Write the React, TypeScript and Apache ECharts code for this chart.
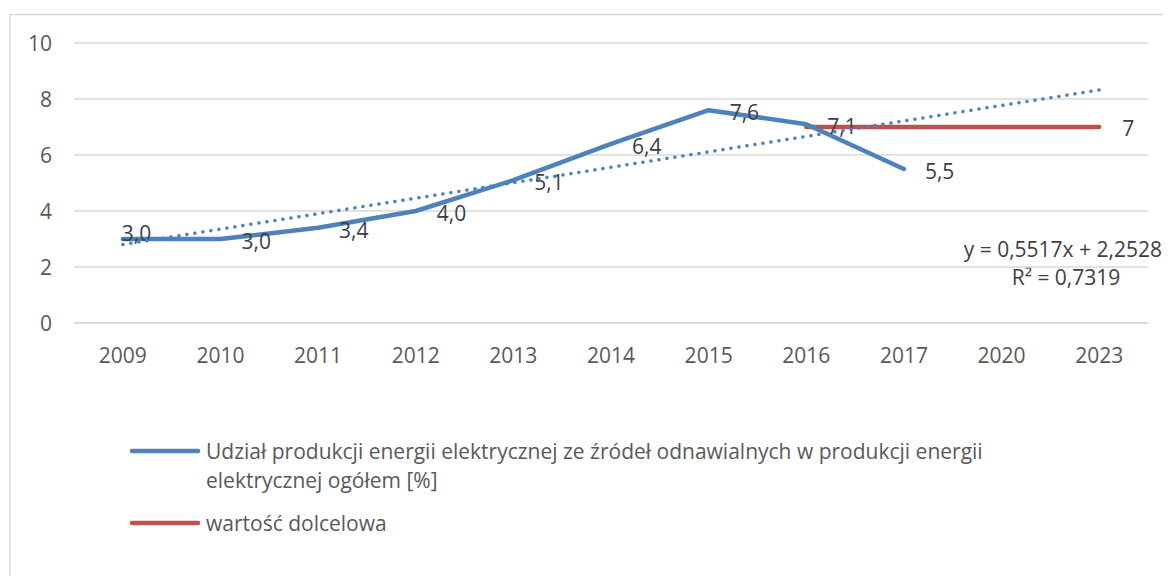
import React, { useEffect, useRef } from "react";
import * as echarts from "echarts";

const categories = ["2009", "2010", "2011", "2012", "2013", "2014", "2015", "2016", "2017", "2020", "2023"];
const shareValues: (number | null)[] = [3.0, 3.0, 3.4, 4.0, 5.1, 6.4, 7.6, 7.1, 5.5, null, null];
const targetValues: (number | null)[] = [null, null, null, null, null, null, null, 7, 7, 7, 7];
const trendValues: (number | null)[] = [2.8, null, null, null, null, null, null, null, null, null, 8.32];
const yTicks = { min: 0, max: 10, interval: 2 };

const shareName = "Udział produkcji energii elektrycznej ze źródeł odnawialnych w produkcji energii elektrycznej ogółem [%]";
const legendLine1 = "Udział produkcji energii elektrycznej ze źródeł odnawialnych w produkcji energii";
const legendLine2 = "elektrycznej ogółem [%]";
const targetName = "wartość dolcelowa";
const equationText = "y = 0,5517x + 2,2528";
const r2Text = "R² = 0,7319";

const FONT = "'Open Sans', 'Noto Sans', sans-serif";
const FS = 21;
const BLUE = "#4f81bd";
const RED = "#c0504d";

export default function App() {
  const ref = useRef<HTMLDivElement>(null);
  useEffect(() => {
    if (!ref.current) return;
    const chart = echarts.init(ref.current, undefined, { renderer: "svg" });
    const fmt = (v: number) => v.toFixed(1).replace(".", ",");
    const shareData = shareValues.map((v, i) =>
      i === 0
        ? { value: v, label: { offset: [-22, -6] } }
        : { value: v }
    );
    const targetData = targetValues.map((v, i) =>
      i === targetValues.length - 1 ? { value: v, label: { show: true } } : { value: v }
    );
    const labelStyle = {
      fontFamily: FONT,
      fontSize: FS,
      color: "#404040",
    };
    chart.setOption({
      animation: false,
      backgroundColor: "#ffffff",
      textStyle: { fontFamily: FONT },
      grid: { left: 66, right: 23, top: 35, bottom: 253, containLabel: false },
      xAxis: {
        type: "category",
        data: categories,
        boundaryGap: true,
        axisLine: { show: true, lineStyle: { color: "#d9d9d9", width: 1.5 } },
        axisTick: { show: false },
        axisLabel: { fontFamily: FONT, fontSize: FS, color: "#595959", margin: 21 },
      },
      yAxis: {
        type: "value",
        min: yTicks.min,
        max: yTicks.max,
        interval: yTicks.interval,
        axisLine: { show: false },
        axisTick: { show: false },
        splitLine: { lineStyle: { color: "#d9d9d9", width: 1.5 } },
        axisLabel: { fontFamily: FONT, fontSize: FS, color: "#595959", margin: 22 },
      },
      series: [
        {
          name: shareName,
          type: "line",
          data: shareData,
          symbol: "circle",
          symbolSize: 2,
          itemStyle: { color: BLUE },
          lineStyle: { color: BLUE, width: 4.5, cap: "round", join: "round" },
          label: {
            show: true,
            position: "right",
            distance: 20,
            offset: [0, 2],
            formatter: (p: any) => fmt(p.value),
            ...labelStyle,
          },
          z: 3,
        },
        {
          name: targetName,
          type: "line",
          data: targetData,
          symbol: "circle",
          symbolSize: 2,
          itemStyle: { color: RED },
          lineStyle: { color: RED, width: 4.5, cap: "round" },
          label: {
            show: false,
            position: "right",
            distance: 22,
            offset: [0, 1],
            formatter: (p: any) => String(p.value),
            ...labelStyle,
          },
          z: 2,
        },
        {
          name: "trend",
          type: "line",
          data: trendValues,
          connectNulls: true,
          symbol: "none",
          lineStyle: { color: BLUE, width: 3.5, type: [0.1, 8], cap: "round" },
          z: 4,
          silent: true,
        },
      ],
      graphic: [
        {
          type: "rect",
          shape: { x: 2, y: 6.5, width: 1300, height: 700 },
          style: { fill: "none", stroke: "#d9d9d9", lineWidth: 1.5 },
          silent: true,
        },
        {
          type: "text",
          x: 1154,
          y: 241,
          style: { text: equationText, fontFamily: FONT, fontSize: FS, fill: "#404040", align: "right", verticalAlign: "middle" },
        },
        {
          type: "text",
          x: 1058,
          y: 269,
          style: { text: r2Text, fontFamily: FONT, fontSize: FS, fill: "#404040", align: "center", verticalAlign: "middle" },
        },
        {
          type: "line",
          shape: { x1: 124, y1: 443, x2: 190, y2: 443 },
          style: { stroke: BLUE, lineWidth: 4.5, lineCap: "round" },
        },
        {
          type: "text",
          x: 198,
          y: 443,
          style: { text: legendLine1, fontFamily: FONT, fontSize: FS, fill: "#595959", align: "left", verticalAlign: "middle" },
        },
        {
          type: "text",
          x: 198,
          y: 472,
          style: { text: legendLine2, fontFamily: FONT, fontSize: FS, fill: "#595959", align: "left", verticalAlign: "middle" },
        },
        {
          type: "line",
          shape: { x1: 124, y1: 515, x2: 190, y2: 515 },
          style: { stroke: RED, lineWidth: 4.5, lineCap: "round" },
        },
        {
          type: "text",
          x: 198,
          y: 515,
          style: { text: targetName, fontFamily: FONT, fontSize: FS, fill: "#595959", align: "left", verticalAlign: "middle" },
        },
      ],
    });
    return () => chart.dispose();
  }, []);
  return <div ref={ref} style={{ width: 1163, height: 568 }} />;
}
